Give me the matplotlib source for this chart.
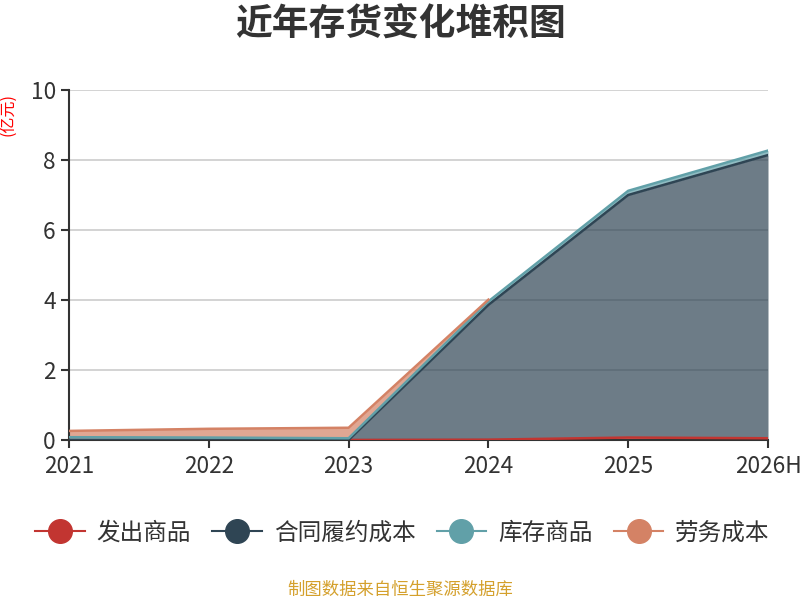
import numpy as np
import matplotlib
matplotlib.use("Agg")
import matplotlib.pyplot as plt
from matplotlib.lines import Line2D

plt.rcParams['font.family'] = ['Noto Sans CJK SC', 'DejaVu Sans']

# data (亿元); nan = no value that year
years = ["2021", "2022", "2023", "2024", "2025", "2026H"]
fachu = [0.0, 0.0, 0.0, 0.01, 0.07, 0.05]          # 发出商品
hetong = [0.0, 0.0, 0.0, 3.85, 6.93, 8.09]          # 合同履约成本
kucun = [0.08, 0.07, 0.05, 0.10, 0.12, 0.13]        # 库存商品
laowu = [0.18, 0.25, 0.30, 0.05, np.nan, np.nan]    # 劳务成本

names = ["发出商品", "合同履约成本", "库存商品", "劳务成本"]
colors = ["#c23531", "#2f4554", "#61a0a8", "#d48265"]
series = [fachu, hetong, kucun, laowu]

fig = plt.figure(figsize=(8, 6), dpi=100)
ax = fig.add_axes([69 / 800, 160 / 600, 699 / 800, 350 / 600])

x = np.arange(len(years))
bottom = np.zeros(len(years))
for vals, c in zip(series, colors):
    v = np.array(vals, dtype=float)
    top = bottom + v
    ok = ~np.isnan(v)
    ax.fill_between(x[ok], bottom[ok], top[ok], color=c, alpha=0.7, linewidth=0, zorder=2)
    ax.plot(x[ok], top[ok], color=c, lw=1.8, zorder=3)
    bottom = np.where(ok, top, bottom)

ax.set_xlim(0, len(years) - 1)
ax.set_ylim(0, 10)
ax.set_xticks(x)
ax.set_xticklabels(years)
ax.set_yticks([0, 2, 4, 6, 8, 10])
ax.tick_params(axis='both', labelsize=16.3, colors='#333333', length=6, width=1.5)
ax.tick_params(axis='x', pad=5)
ax.grid(axis='y', color='#cccccc', lw=1.2, zorder=0)
ax.set_axisbelow(True)
for s in ['top', 'right']:
    ax.spines[s].set_visible(False)
for s in ['left', 'bottom']:
    ax.spines[s].set_color('#333333')
    ax.spines[s].set_linewidth(1.5)

fig.text(0.5, 1 - 25 / 600, "近年存货变化堆积图", ha='center', va='center',
         fontsize=26.5, fontweight='bold', color='#333333')
fig.text(0.01, 1 - 115 / 600, "(亿元)", rotation=90, ha='center', va='center',
         fontsize=11.5, color='red')

handles = [Line2D([0], [0], color=c, lw=1.5, marker='o', markersize=17,
                  markerfacecolor=c, markeredgecolor=c) for c in colors]
fig.legend(handles, names, loc='center', bbox_to_anchor=(0.503, 1 - 533 / 600),
           ncol=4, frameon=False, fontsize=17, handlelength=2.1,
           columnspacing=0.9, handletextpad=0.5, labelcolor='#333333')

fig.text(0.5, 1 - 590 / 600, "制图数据来自恒生聚源数据库", ha='center', va='center',
         fontsize=12.5, color='#d4a02c')

fig.savefig("out.png", dpi=100)
